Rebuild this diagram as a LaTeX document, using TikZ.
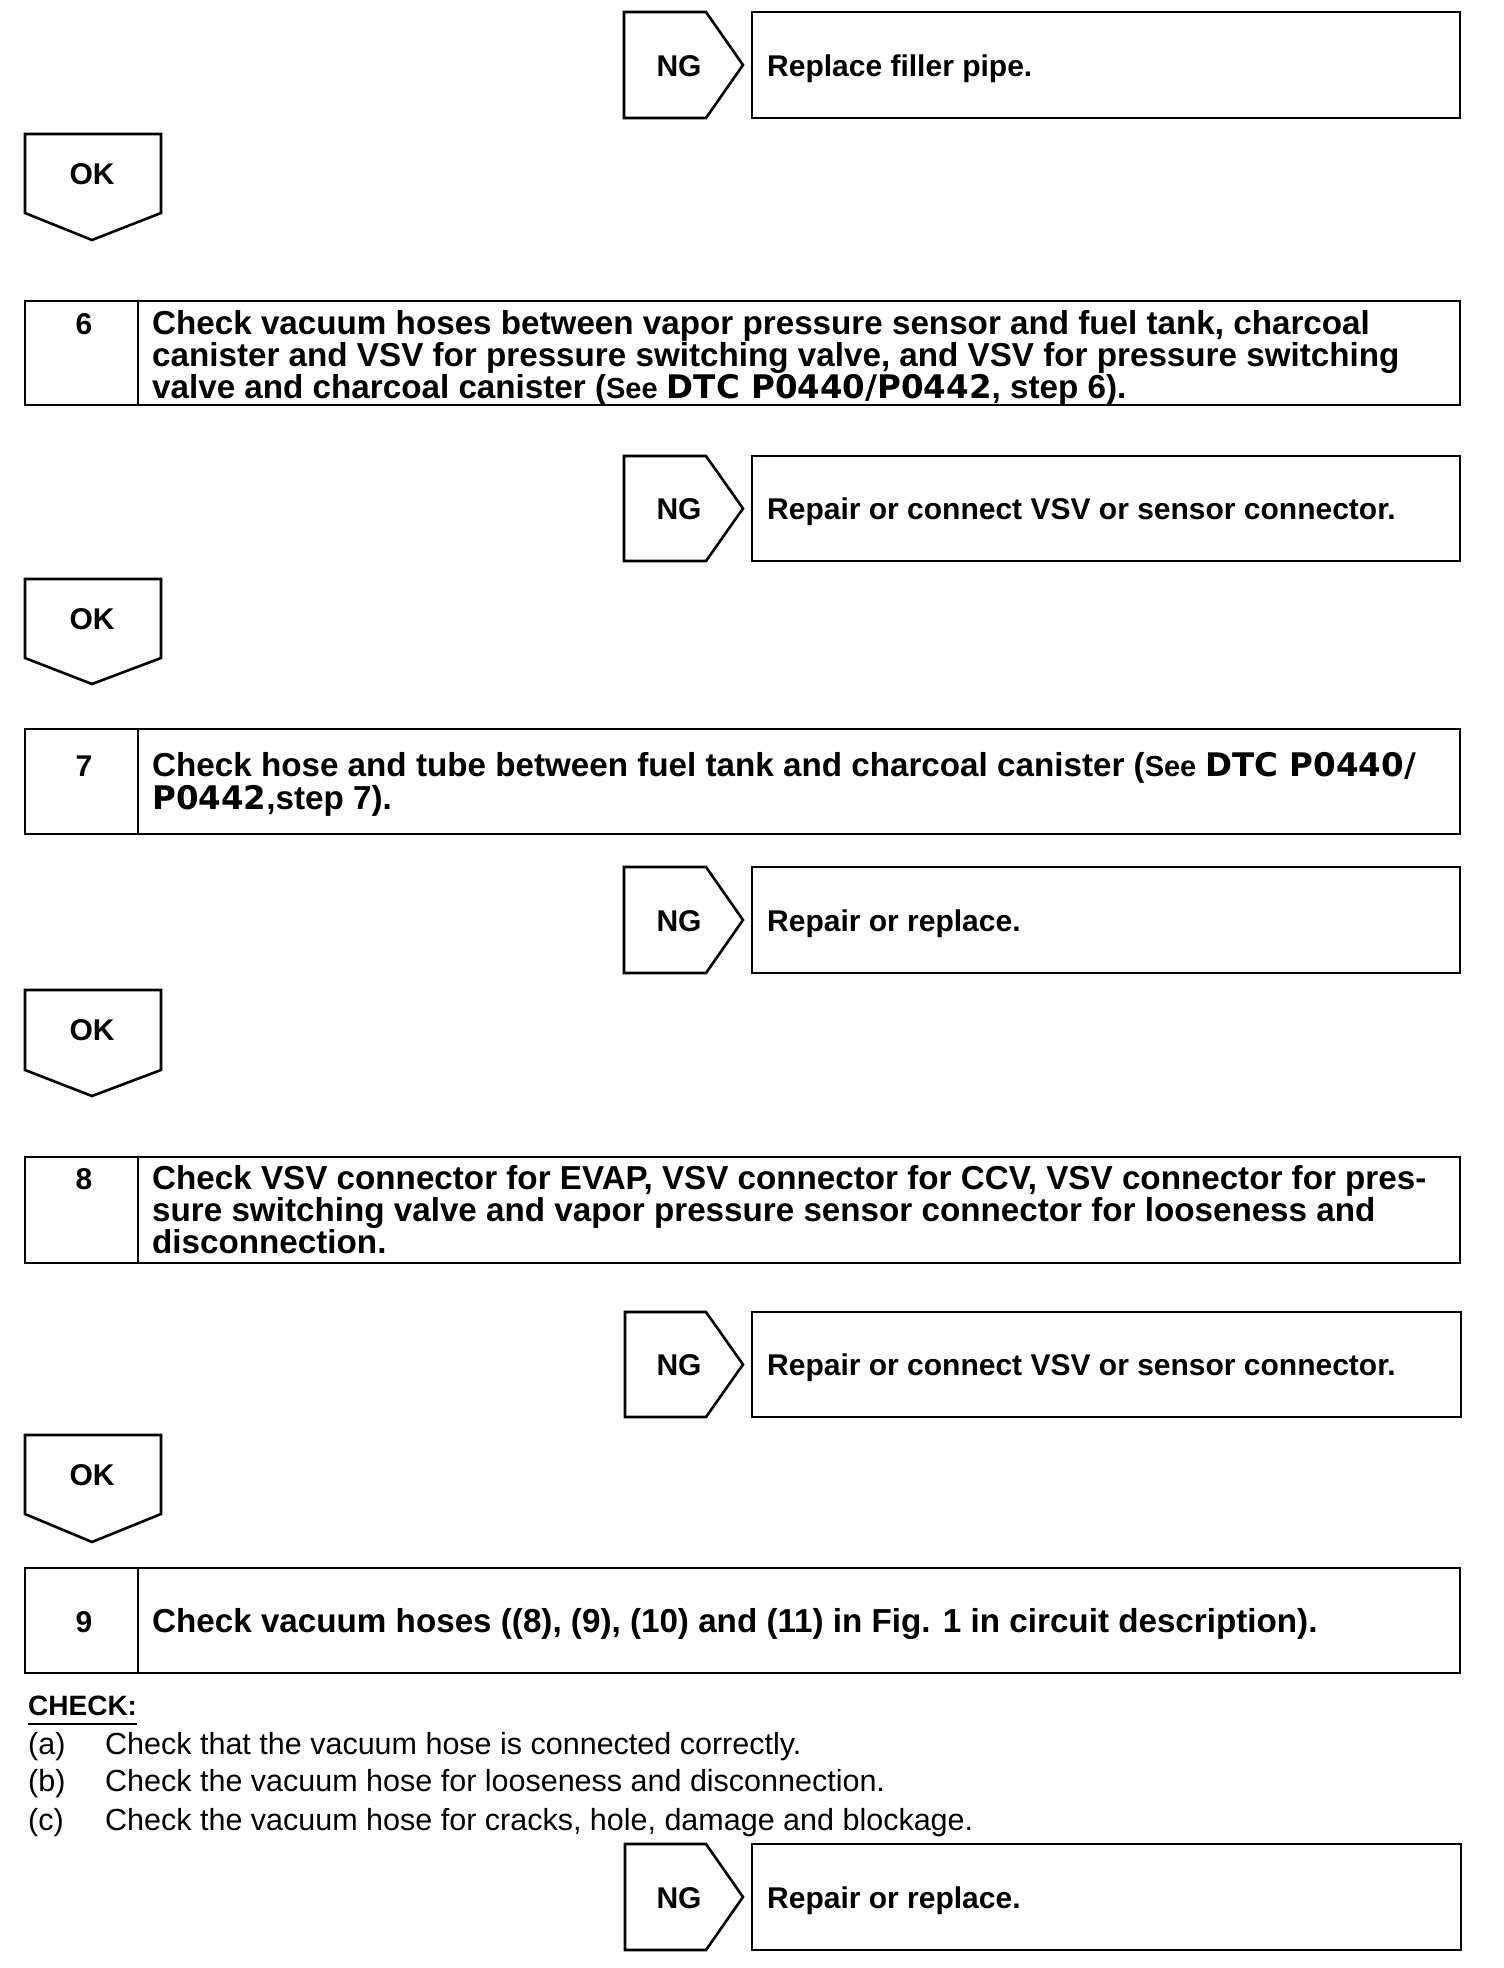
\documentclass[tikz,border=0pt]{standalone}
\usepackage{fontspec}
\setmainfont{Liberation Sans}
\newfontfamily\dvs{DejaVu Sans}
\newcommand\dtc[1]{{\dvs\fontsize{32.5}{32}\selectfont\bfseries #1}}
\newcommand\seew[1]{{\fontsize{29}{32}\selectfont\bfseries #1}}
\tikzset{
  bx/.style={draw, line width=2.6pt, line join=miter},
  big/.style={font=\fontsize{30}{32}\selectfont\bfseries, inner sep=0pt},
  stxt/.style={font=\fontsize{33.2}{32}\selectfont\bfseries, inner sep=0pt},
  reg/.style={font=\fontsize{30.5}{30}\selectfont, inner sep=0pt},
}
% name, left, top, bottom, right, text
\newcommand\NGblk[6]{%
  \draw[bx] (#2,#3) -- (706,#3) -- (743,{(#3+#4)/2}) -- (706,#4) -- (#2,#4) -- cycle;
  \draw[bx] (752,#3) rectangle (#5,#4);
  \node[big, anchor=base] (#1l) at (679,{(#3+#4)/2+11}) {NG};
  \node[big, anchor=base west] (#1t) at (767,{(#3+#4)/2+11}) {#6};
}
% name, top, side bottom, tip
\newcommand\OKblk[4]{%
  \draw[bx] (25,#2) -- (161,#2) -- (161,#3) -- (92,#4) -- (25,#3) -- cycle;
  \node[big, anchor=base] (#1) at (92,{#2+50}) {OK};
}
% name, top, bottom, number, number baseline
\newcommand\STblk[5]{%
  \draw[bx] (25,#2) rectangle (1460,#3);
  \draw[bx] (138,#2) -- (138,#3);
  \node[big, anchor=base] (#1n) at (84,#5) {#4};
}
\begin{document}
\begin{tikzpicture}[x=1pt,y=-1pt]
\useasboundingbox (0,0) rectangle (1504,1968);

\NGblk{ngA}{624}{12}{118}{1460}{Replace filler pipe.}
\OKblk{okA}{134}{213}{240}

\STblk{stA}{301}{405}{6}{334}
\node[stxt, anchor=base west] (stAa) at (152,334) {Check vacuum hoses between vapor pressure sensor and fuel tank, charcoal};
\node[stxt, anchor=base west] (stAb) at (152,366) {canister and VSV for pressure switching valve, and VSV for pressure switching};
\node[stxt, anchor=base west] (stAc) at (152,398) {valve and charcoal canister (\seew{See} \dtc{DTC P0440/P0442}, step 6).};

\NGblk{ngB}{624}{456}{561}{1460}{Repair or connect VSV or sensor connector.}
\OKblk{okB}{579}{658}{684}

\STblk{stB}{729}{834}{7}{776}
\node[stxt, anchor=base west] (stBa) at (152,776) {Check hose and tube between fuel tank and charcoal canister (\seew{See} \dtc{DTC P0440/}};
\node[stxt, anchor=base west] (stBb) at (152,809) {\dtc{P0442},step 7).};

\NGblk{ngC}{624}{867}{973}{1460}{Repair or replace.}
\OKblk{okC}{990}{1070}{1096}

\STblk{stC}{1157}{1263}{8}{1189}
\node[stxt, anchor=base west] (stCa) at (152,1189) {Check VSV connector for EVAP, VSV connector for CCV, VSV connector for pres-};
\node[stxt, anchor=base west] (stCb) at (152,1221) {sure switching valve and vapor pressure sensor connector for looseness and};
\node[stxt, anchor=base west] (stCc) at (152,1253) {disconnection.};

\NGblk{ngD}{625}{1312}{1417}{1461}{Repair or connect VSV or sensor connector.}
\OKblk{okD}{1435}{1514}{1542}

\STblk{stD}{1568}{1673}{9}{1632}
\node[stxt, anchor=base west] (stDa) at (152,1632) {Check vacuum hoses ((8), (9), (10) and (11) in Fig. 1 in circuit description).};

\node[big, anchor=base west, font=\fontsize{28}{30}\selectfont\bfseries] (chk) at (28,1715) {CHECK:};
\draw[line width=2pt] (28,1724) -- (chk.east |- 0,1724);
\node[reg, anchor=base west] (ia) at (28,1754) {(a)};
\node[reg, anchor=base west] (ta) at (105,1754) {Check that the vacuum hose is connected correctly.};
\node[reg, anchor=base west] (ib) at (28,1791) {(b)};
\node[reg, anchor=base west] (tb) at (105,1791) {Check the vacuum hose for looseness and disconnection.};
\node[reg, anchor=base west] (ic) at (28,1830) {(c)};
\node[reg, anchor=base west] (tc) at (105,1830) {Check the vacuum hose for cracks, hole, damage and blockage.};

\NGblk{ngE}{625}{1844}{1950}{1461}{Repair or replace.}
\end{tikzpicture}
\end{document}
